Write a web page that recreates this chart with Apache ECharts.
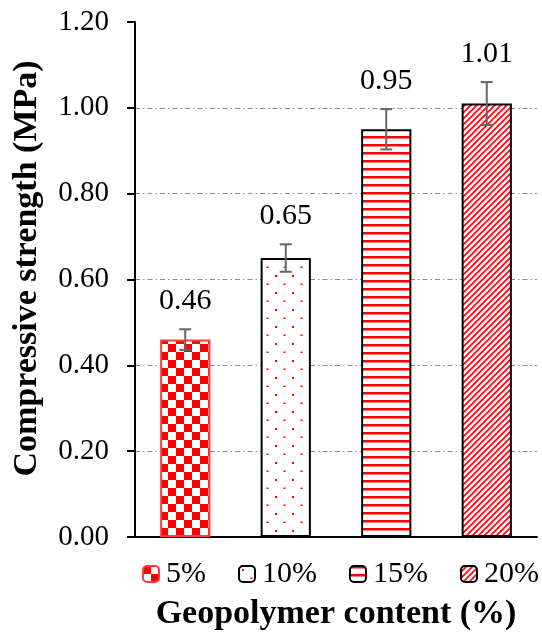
<!DOCTYPE html>
<html>
<head>
<meta charset="utf-8">
<script src="https://cdn.jsdelivr.net/npm/echarts@6/dist/echarts.min.js"></script>
<style>html,body{margin:0;padding:0;background:#fff}#c{width:542px;height:638px}</style>
</head>
<body>
<div id="c"></div>
<script>
var categories = ['5%', '10%', '15%', '20%'];
var strength = [0.46, 0.65, 0.95, 1.01];
var errors = [0.024, 0.032, 0.047, 0.05];
var yTicks = ['0.00', '0.20', '0.40', '0.60', '0.80', '1.00', '1.20'];

function tile(w, h, draw) {
  var c = document.createElement('canvas');
  c.width = w; c.height = h;
  var g = c.getContext('2d');
  g.fillStyle = '#fff'; g.fillRect(0, 0, w, h);
  draw(g);
  return {image: c, repeat: 'repeat'};
}
var RED = '#ff0000';
var patterns = [
  tile(16, 16, function (g) { g.fillStyle = RED; g.fillRect(0, 0, 8, 8); g.fillRect(8, 8, 8, 8); }),
  tile(17, 17, function (g) { g.fillStyle = RED; g.fillRect(3, 3, 2, 2); g.fillRect(11.5, 11.5, 2, 1.5); }),
  tile(8, 8.5, function (g) { g.fillStyle = RED; g.fillRect(0, 0, 8, 2.5); }),
  tile(6, 6, function (g) {
    g.strokeStyle = RED; g.lineWidth = 1.6;
    g.beginPath(); g.moveTo(0, 6); g.lineTo(6, 0); g.stroke();
    g.beginPath(); g.moveTo(-1, 1); g.lineTo(1, -1); g.stroke();
    g.beginPath(); g.moveTo(5, 7); g.lineTo(7, 5); g.stroke();
  })
];
var borders = ['#ff3b3b', '#000', '#000', '#000'];

var FONT = 'Liberation Serif';
var series = categories.map(function (name, i) {
  var d = categories.map(function (_, j) { return j === i ? strength[i] : '-'; });
  return {
    name: name, type: 'bar', stack: 'all', barWidth: '50%', data: d,
    itemStyle: {color: patterns[i], borderColor: borders[i], borderWidth: 2},
    emphasis: {disabled: true}
  };
});
series.push({
  type: 'custom', silent: true, z: 10,
  data: strength.map(function (v, i) { return [i, v, errors[i]]; }),
  renderItem: function (params, api) {
    var x = api.coord([api.value(0), 0])[0];
    var top = api.coord([api.value(0), api.value(1) + api.value(2)])[1];
    var bot = api.coord([api.value(0), api.value(1) - api.value(2)])[1];
    var st = {stroke: '#666', lineWidth: 2};
    var cap = 6;
    return {type: 'group', children: [
      {type: 'line', shape: {x1: x, y1: top, x2: x, y2: bot}, style: st},
      {type: 'line', shape: {x1: x - cap, y1: top, x2: x + cap, y2: top}, style: st},
      {type: 'line', shape: {x1: x - cap, y1: bot, x2: x + cap, y2: bot}, style: st},
      {type: 'text', style: {text: api.value(1).toFixed(2), x: x, y: top - 13, align: 'center', verticalAlign: 'bottom',
        font: '30px "Liberation Serif"', fill: '#000'}}
    ]};
  }
});

var chart = echarts.init(document.getElementById('c'), null, {renderer: 'canvas'});
chart.setOption({
  animation: false,
  backgroundColor: '#fff',
  grid: {left: 135, right: 5, top: 22, bottom: 101, containLabel: false, outerBoundsMode: 'none'},
  legend: {
    data: categories, left: 142, top: 559, padding: 0, itemWidth: 16, itemHeight: 16, itemGap: 32,
    textStyle: {fontFamily: FONT, fontSize: 30, color: '#000', padding: [0, 0, 0, 2]},
    selectedMode: false
  },
  xAxis: {
    type: 'category', data: categories,
    axisLine: {lineStyle: {color: '#000', width: 2}},
    axisTick: {show: false}, axisLabel: {show: false},
    name: 'Geopolymer content (%)', nameLocation: 'middle', nameGap: 60,
    nameTextStyle: {fontFamily: FONT, fontSize: 34, fontWeight: 'bold', color: '#000'}
  },
  yAxis: {
    type: 'value', min: 0, max: 1.2, interval: 0.2,
    axisLine: {show: true, lineStyle: {color: '#000', width: 2}},
    axisTick: {show: true, length: 8, lineStyle: {color: '#000', width: 2}},
    axisLabel: {fontFamily: FONT, fontSize: 29, color: '#000', margin: 26,
      formatter: function (v) { return yTicks[Math.round(v / 0.2)]; }},
    splitLine: {show: true, showMaxLine: false, showMinLine: false, lineStyle: {color: '#8c8c8c', width: 1, type: [5, 3, 1.5, 3]}},
    name: 'Compressive strength (MPa)', nameLocation: 'middle', nameGap: 91,
    nameTextStyle: {fontFamily: FONT, fontSize: 34, fontWeight: 'bold', color: '#000', padding: [0, 0, 0, 22]}
  },
  series: series
});
</script>
</body>
</html>
